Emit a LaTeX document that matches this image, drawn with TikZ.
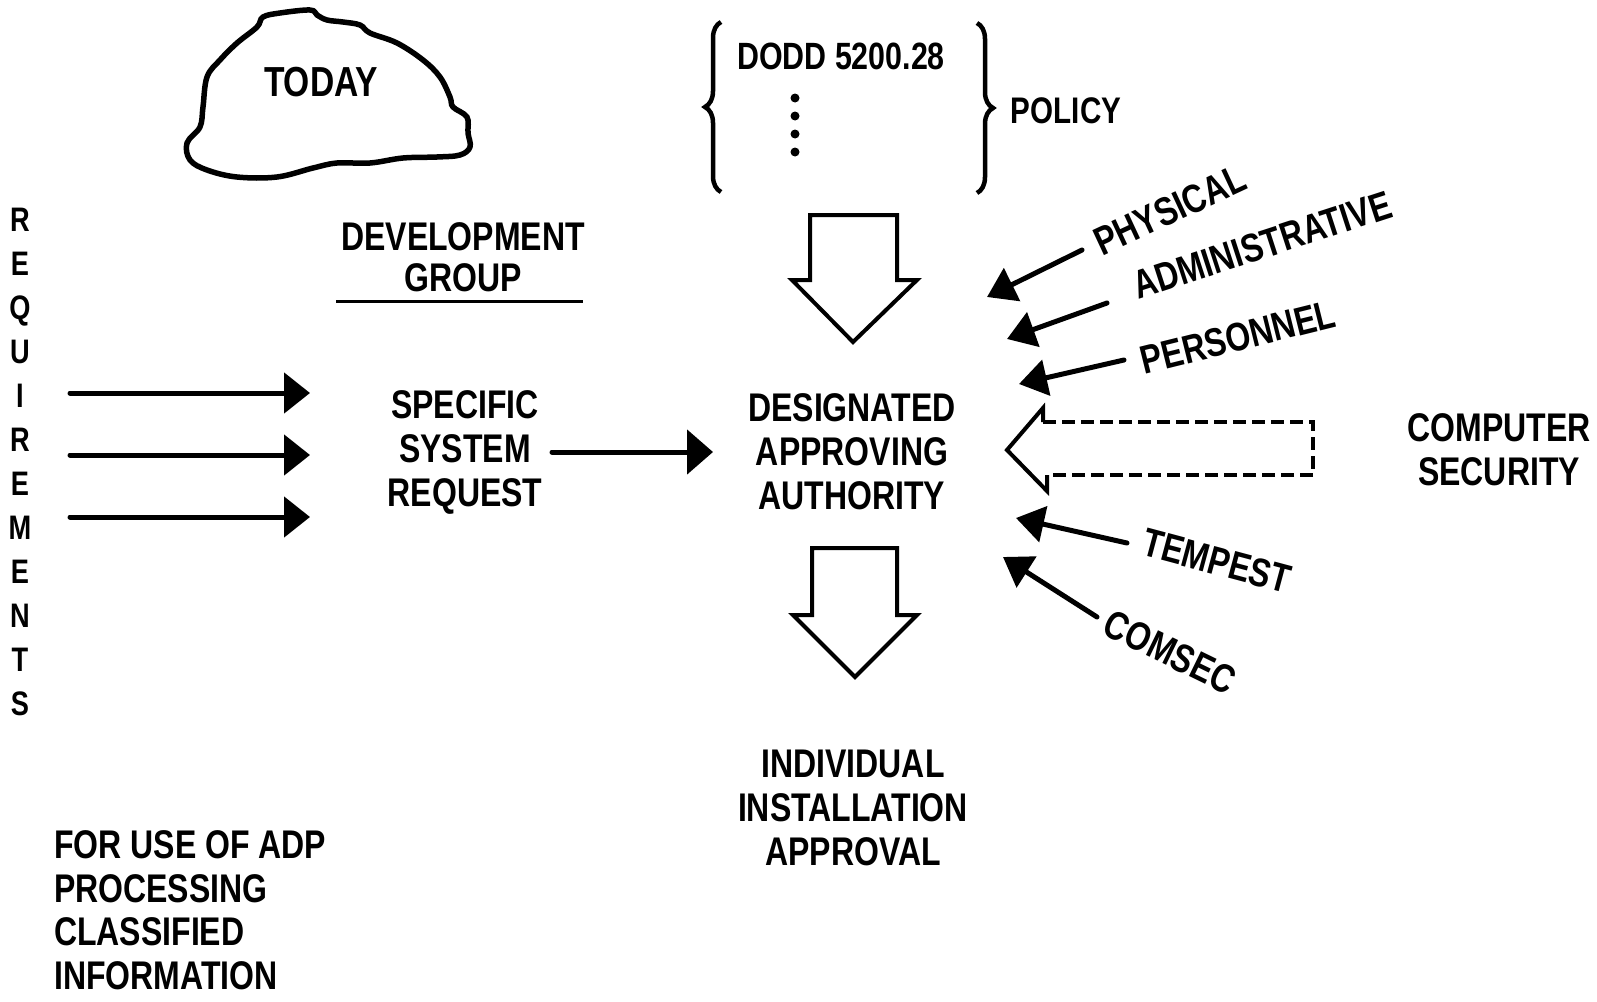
\documentclass[tikz,border=0pt]{standalone}
\usepackage{fontspec}
\setmainfont{Liberation Sans}[FakeStretch=0.8]
\usetikzlibrary{arrows.meta,decorations.pathreplacing}
\begin{document}
\begin{tikzpicture}[x=1pt,y=-1pt,
  lbl/.style={font=\fontsize{40}{44}\selectfont\bfseries, inner sep=0pt, align=center},
  arr/.style={line width=5pt, line cap=round, -{Triangle[length=26pt,width=40pt]}},
  slant/.style={line width=5pt, line cap=round, -{Triangle[length=28pt,width=36pt]}},
  blockarrow/.style={line width=4pt, line join=miter},
  bracestyle/.style={line width=4.5pt, decorate, decoration={brace, amplitude=16pt}},
]
\useasboundingbox (0,0) rectangle (1597,1001);

% cloud labelled TODAY
\draw[line width=5.5pt] plot[smooth cycle, tension=0.6] coordinates {
  (263,17) (280,13) (310,10) (317,15) (327,20) (343,22) (360,25) (370,33)
  (397,43) (423,60) (440,77) (450,97) (453,107) (467,117) (468,133) (470,147)
  (460,155) (437,157) (403,158) (370,163) (337,163) (313,168) (277,177)
  (237,177) (207,170) (190,160) (187,143) (200,127) (203,107) (207,77)
  (220,60) (237,43) (257,27)};
\node[lbl, font=\fontsize{42}{44}\selectfont\bfseries] (today) at (321,82) {TODAY};

% policy braces
\draw[bracestyle] (721,192) -- (721,22);
\draw[bracestyle] (977,23) -- (977,193);
\node[lbl, font=\fontsize{38}{40}\selectfont\bfseries] (dodd) at (841,56) {DODD 5200.28};
\foreach \yy in {98,116,134,152} \fill (795,\yy) circle (4.5pt);
\node[lbl, font=\fontsize{37}{40}\selectfont\bfseries] (policy) at (1066,111) {POLICY};

% development group
\node[lbl, font=\fontsize{40}{41}\selectfont\bfseries] (dev) at (463,257) {DEVELOPMENT\\GROUP};
\draw[line width=3pt] (336,301) -- (583,301);

% requirements
\node[lbl, font=\fontsize{34}{44}\selectfont\bfseries] (req) at (20,462)
  {R\\E\\Q\\U\\I\\R\\E\\M\\E\\N\\T\\S};
\coordinate (r1s) at (70,393);  \coordinate (r1e) at (310,393);
\coordinate (r2s) at (70,455);  \coordinate (r2e) at (310,455);
\coordinate (r3s) at (70,517);  \coordinate (r3e) at (310,517);
\draw[arr] (r1s) -- (r1e);
\draw[arr] (r2s) -- (r2e);
\draw[arr] (r3s) -- (r3e);

% central chain
\node[lbl] (ssr) at (465,452) {SPECIFIC\\SYSTEM\\REQUEST};
\node[lbl] (daa) at (852,452) {DESIGNATED\\APPROVING\\AUTHORITY};
\node[lbl] (iia) at (853,808) {INDIVIDUAL\\INSTALLATION\\APPROVAL};
\coordinate (ssrout) at (552,452);
\coordinate (daain) at (713,452);
\draw[arr, -{Triangle[length=26pt,width=44pt]}] (ssrout) -- (daain);

% block arrows
\draw[blockarrow] (810,215) -- (897,215) -- (897,280) -- (917,280) -- (853,342)
  -- (792,280) -- (810,280) -- cycle;
\draw[blockarrow] (812,548) -- (897,548) -- (897,615) -- (917,615) -- (855,677)
  -- (793,615) -- (812,615) -- cycle;

% computer security
\node[lbl] (cs) at (1499,450) {COMPUTER\\SECURITY};
\draw[line width=4pt, line join=miter] (1043,422) -- (1043,408) -- (1007,450)
  -- (1047,491) -- (1047,475);
\draw[line width=4pt, dash pattern=on 13pt off 6pt] (1043,422) -- (1313,422)
  -- (1313,475) -- (1047,475);

% security disciplines
\node[lbl, rotate=25] (phys) at (1170,210) {PHYSICAL};
\node[lbl, rotate=18] (admin) at (1262,245) {ADMINISTRATIVE};
\node[lbl, rotate=14] (pers) at (1238,337) {PERSONNEL};
\node[lbl, rotate=-15] (temp) at (1217,561) {TEMPEST};
\node[lbl, rotate=-26] (coms) at (1170,652) {COMSEC};
\coordinate (physs) at (1082,250);  \coordinate (physe) at (987,297);
\coordinate (admins) at (1107,303); \coordinate (admine) at (1007,339);
\coordinate (perss) at (1124,360);  \coordinate (perse) at (1019,384);
\coordinate (temps) at (1127,543);  \coordinate (tempe) at (1016,518);
\coordinate (comss) at (1097,617);  \coordinate (comse) at (1003,557);
\draw[slant] (physs) -- (physe);
\draw[slant] (admins) -- (admine);
\draw[slant] (perss) -- (perse);
\draw[slant] (temps) -- (tempe);
\draw[slant] (comss) -- (comse);

% footnote
\node[lbl, align=left, anchor=west, font=\fontsize{40}{43.5}\selectfont\bfseries] (use) at (54,910)
  {FOR USE OF ADP\\PROCESSING\\CLASSIFIED\\INFORMATION};
\end{tikzpicture}
\end{document}
